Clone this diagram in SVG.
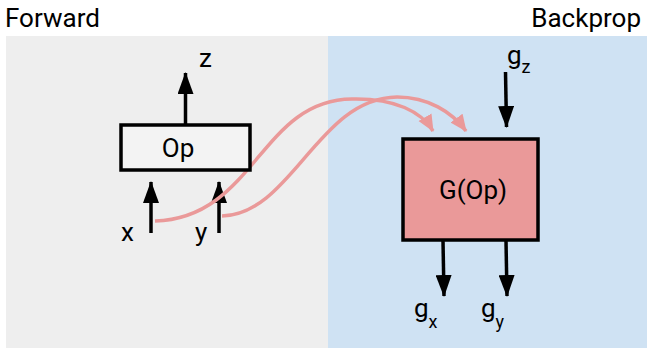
<svg xmlns="http://www.w3.org/2000/svg" width="647" height="348" viewBox="0 0 647 348">
<defs>
<style>
text{font-family:Roboto,"Liberation Sans",sans-serif;fill:#000}
.lbl{font-size:26px}
.sub{font-size:18px}
.blk{stroke:#000;stroke-width:3.5;fill:none}
.pk{stroke:#ea9999;stroke-width:3.5;fill:none}
.box{stroke:#000;stroke-width:3.5}
</style>
<marker id="ah" markerUnits="userSpaceOnUse" markerWidth="22" markerHeight="16" refX="21" refY="8" orient="auto" viewBox="0 0 22 16">
<path d="M0,0 L22,8 L0,16 z" fill="#000"/>
</marker>
<marker id="ahp" markerUnits="userSpaceOnUse" markerWidth="18" markerHeight="16" refX="16" refY="7.5" orient="auto" viewBox="0 0 18 16">
<path d="M0,0 L17,7.5 L0,15 z" fill="#ea9999"/>
</marker>
</defs>
<rect x="6" y="36" width="322" height="312" fill="#eeeeee"/>
<rect x="328" y="36" width="319" height="312" fill="#cfe2f3"/>
<text class="lbl" x="5" y="27">Forward</text>
<text class="lbl" x="641" y="27" text-anchor="end">Backprop</text>

<g id="connectors">
<path class="blk" d="M185.5,125 L185.5,73" marker-end="url(#ah)"/>
<path class="blk" d="M151,233 L151,182" marker-end="url(#ah)"/>
<path class="blk" d="M219,233 L219,182" marker-end="url(#ah)"/>
<path class="blk" d="M505.5,72 L506.5,127" marker-end="url(#ah)"/>
<path class="blk" d="M443,241 L444,296" marker-end="url(#ah)"/>
<path class="blk" d="M506,241 L507,296" marker-end="url(#ah)"/>
<path class="pk" d="M155,221 C255,218 260,100 352,99 C395,98 422,112 433,131" marker-end="url(#ahp)"/>
<path class="pk" d="M222,216 C292,214 318,98 397,97 C428,97 452,112 466,131" marker-end="url(#ahp)"/>
</g>

<g id="op">
<rect class="box" x="121" y="125" width="129" height="45" fill="#f3f3f3"/>
<text class="lbl" x="178" y="157" text-anchor="middle">Op</text>
</g>
<g id="gop">
<rect class="box" x="403" y="139" width="135" height="101" fill="#ea9999"/>
<text class="lbl" x="473" y="199" text-anchor="middle">G(Op)</text>
</g>
<g id="labels">
<text class="lbl" x="199" y="67">z</text>
<text class="lbl" x="121" y="241">x</text>
<text class="lbl" x="195" y="241">y</text>
<text class="lbl" x="507" y="64">g<tspan class="sub" dy="9">z</tspan></text>
<text class="lbl" x="414" y="317">g<tspan class="sub" dy="11">x</tspan></text>
<text class="lbl" x="481" y="317">g<tspan class="sub" dy="11">y</tspan></text>
</g>
</svg>
